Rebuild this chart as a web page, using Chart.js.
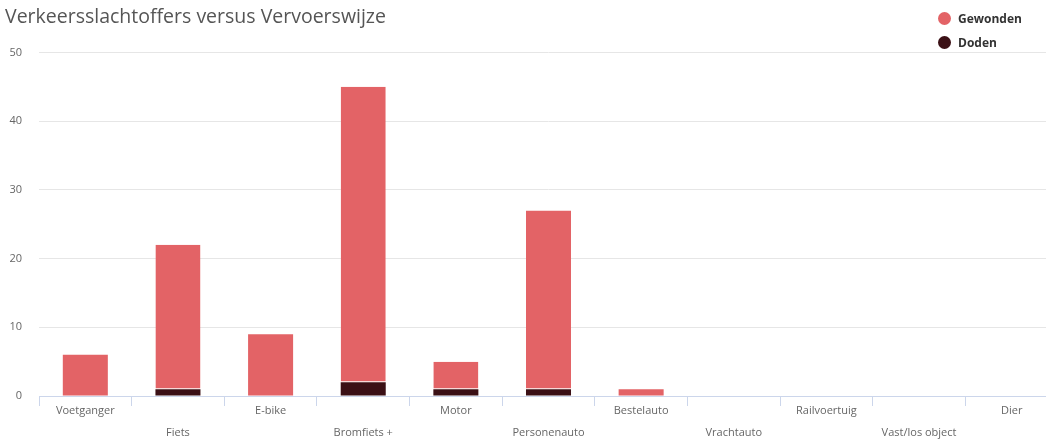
<!DOCTYPE html>
<html>
<head>
<meta charset="utf-8">
<script src="https://cdn.jsdelivr.net/npm/chart.js@4"></script>
<style>
  html, body { margin: 0; padding: 0; background: #fff; overflow: hidden; }
  #wrap { position: relative; width: 1060px; height: 440px; }
  #legend { position: absolute; top: 10px; left: 938px; font-family: "Open Sans", sans-serif; font-size: 12px; font-weight: bold; color: #333; }
  #legend div { height: 24px; line-height: 18px; white-space: nowrap; }
  #legend span.dot { display: inline-block; width: 13px; height: 13px; border-radius: 50%; vertical-align: -2px; margin-right: 7px; }
</style>
</head>
<body>
<div id="wrap">
  <canvas id="chart" width="1060" height="440"></canvas>
  <div id="legend"></div>
</div>
<script>
// categorieen en waarden
let categorieen = ['Voetganger', 'Fiets', 'E-bike', 'Bromfiets +', 'Motor', 'Personenauto',
                   'Bestelauto', 'Vrachtauto', 'Railvoertuig', 'Vast/los object', 'Dier'];
let gewonden = [6, 21, 9, 43, 4, 26, 1, 0, 0, 0, 0];
let doden = [0, 1, 0, 2, 1, 1, 0, 0, 0, 0, 0];
let yTicks = [0, 10, 20, 30, 40, 50];

let kleurGewonden = '#e36366';
let kleurDoden = '#3b1015';

// labels om en om lager zetten
let labels = categorieen.map((c, i) => i % 2 === 0 ? c : ['', c]);

let ctx = document.getElementById('chart').getContext('2d');
let chart = new Chart(ctx, {
    type: 'bar',
    data: {
        labels: labels,
        datasets: [
            { label: 'Doden', data: doden, backgroundColor: kleurDoden, borderWidth: 0 },
            {
                label: 'Gewonden', data: gewonden, backgroundColor: kleurGewonden,
                borderColor: '#fff', borderSkipped: false,
                // witte scheiding alleen waar er doden onder staan
                borderWidth: c => doden[c.dataIndex] > 0 ? { top: 0, left: 0, right: 0, bottom: 1 } : 0
            }
        ]
    },
    options: {
        responsive: false,
        animation: false,
        categoryPercentage: 1,
        barPercentage: 0.486,
        layout: { padding: { left: 5, right: 2, top: 0, bottom: 0 } },
        plugins: {
            legend: { display: false },
            tooltip: { enabled: false },
            title: {
                display: true,
                text: 'Verkeersslachtoffers versus Vervoerswijze',
                align: 'start',
                color: '#555',
                font: { family: 'Open Sans', size: 19.5, weight: 'normal' },
                padding: { top: 6, bottom: 23 }
            }
        },
        scales: {
            x: {
                stacked: true,
                grid: { display: true, offset: true, drawOnChartArea: false, drawTicks: true, tickLength: 10, color: '#ccd6eb' },
                border: { display: true, color: '#ccd6eb' },
                ticks: {
                    color: '#666',
                    autoSkip: false,
                    maxRotation: 0,
                    padding: -6,
                    font: { family: 'Open Sans', size: 11, lineHeight: 2 }
                },
                afterFit: s => { s.height = 44; }
            },
            y: {
                stacked: true,
                min: 0,
                max: 50,
                afterBuildTicks: s => { s.ticks = yTicks.map(v => ({ value: v })); },
                grid: { color: '#e6e6e6', drawTicks: false },
                border: { display: false },
                ticks: {
                    color: '#666',
                    padding: 17,
                    font: { family: 'Open Sans', size: 11 }
                },
                afterFit: s => { s.width = 34; }
            }
        }
    }
});

// legenda: Gewonden boven, Doden onder
let legend = document.getElementById('legend');
[chart.data.datasets[1], chart.data.datasets[0]].forEach(ds => {
    let row = document.createElement('div');
    let dot = document.createElement('span');
    dot.className = 'dot';
    dot.style.background = ds.backgroundColor;
    row.appendChild(dot);
    row.appendChild(document.createTextNode(ds.label));
    legend.appendChild(row);
});
</script>
</body>
</html>
